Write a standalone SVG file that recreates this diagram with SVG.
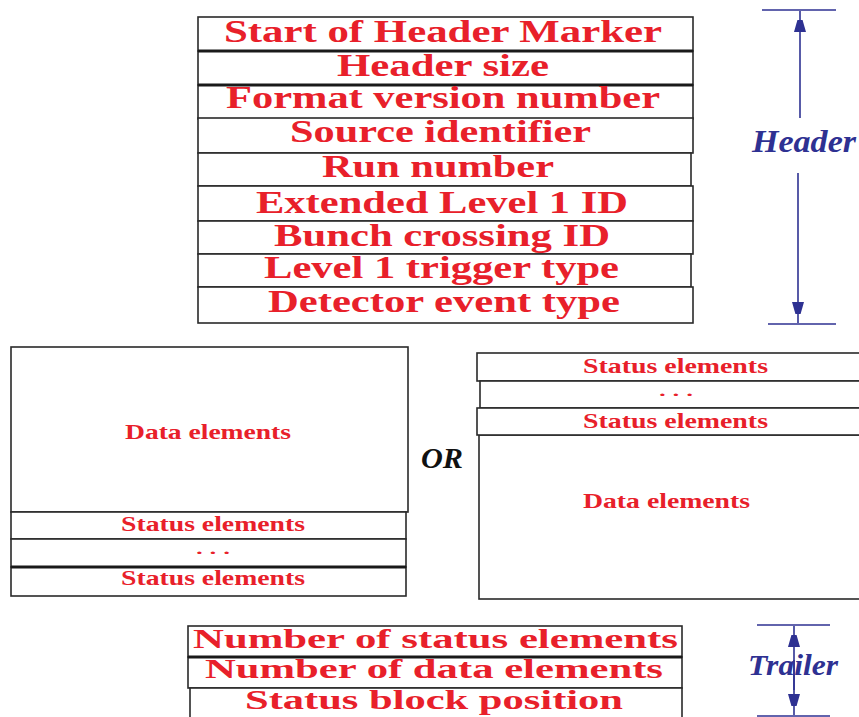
<svg xmlns="http://www.w3.org/2000/svg" width="859" height="717" viewBox="0 0 859 717">
<style>
.box{fill:#fff;stroke:#2a2a2a;stroke-width:1.6}
.thick{fill:none;stroke:#1a1a1a;stroke-width:3}
.big{font-family:'Liberation Serif','Times New Roman',Times,serif;font-weight:700;font-size:31px;fill:#e8202a}
.tr{font-size:28px}
.sm{font-family:'Liberation Serif','Times New Roman',Times,serif;font-weight:700;font-size:22px;fill:#e8202a}
.dots{font-size:15px}
.lbl{font-family:'Liberation Serif','Times New Roman',Times,serif;font-weight:700;font-style:italic;font-size:31px;fill:#2e3192}
.or{font-family:'Liberation Serif','Times New Roman',Times,serif;font-weight:700;font-style:italic;font-size:30px;fill:#111}
.ln{stroke:#2e3192;stroke-width:1.6;fill:none}
</style>
<defs>
<marker id="ah" markerUnits="userSpaceOnUse" markerWidth="12" markerHeight="22" refX="21" refY="6" orient="auto">
<path d="M0,0 L21,6 L0,12 z" fill="#2e3192"/>
</marker>
</defs>
<rect width="859" height="717" fill="#fff"/>

<g id="header">
<rect class="box" x="198" y="17" width="495" height="34"/>
<rect class="box" x="198" y="51" width="495" height="34"/>
<rect class="box" x="198" y="85" width="495" height="34"/>
<rect class="box" x="198" y="118" width="495" height="35"/>
<rect class="box" x="198" y="153" width="493" height="33"/>
<rect class="box" x="198" y="186" width="495" height="35"/>
<rect class="box" x="198" y="221" width="495" height="33"/>
<rect class="box" x="198" y="254" width="493" height="33"/>
<rect class="box" x="198" y="287" width="495" height="36"/>
<line class="thick" x1="198" y1="51" x2="693" y2="51"/>
<line class="thick" x1="198" y1="85" x2="693" y2="85"/>
<text class="big" x="224" y="42" textLength="438" lengthAdjust="spacingAndGlyphs">Start of Header Marker</text>
<text class="big" x="337" y="76" textLength="212" lengthAdjust="spacingAndGlyphs">Header size</text>
<text class="big" x="226" y="108" textLength="434" lengthAdjust="spacingAndGlyphs">Format version number</text>
<text class="big" x="290" y="142" textLength="301" lengthAdjust="spacingAndGlyphs">Source identifier</text>
<text class="big" x="322" y="177" textLength="232" lengthAdjust="spacingAndGlyphs">Run number</text>
<text class="big" x="256" y="213" textLength="372" lengthAdjust="spacingAndGlyphs">Extended Level 1 ID</text>
<text class="big" x="274" y="246" textLength="336" lengthAdjust="spacingAndGlyphs">Bunch crossing ID</text>
<text class="big" x="264" y="278" textLength="355" lengthAdjust="spacingAndGlyphs">Level 1 trigger type</text>
<text class="big" x="268" y="312" textLength="352" lengthAdjust="spacingAndGlyphs">Detector event type</text>
</g>

<g id="left-block">
<rect class="box" x="11" y="347" width="397" height="165"/>
<rect class="box" x="11" y="512" width="395" height="27"/>
<rect class="box" x="11" y="539" width="395" height="28"/>
<rect class="box" x="11" y="567" width="395" height="29"/>
<line class="thick" x1="11" y1="567" x2="406" y2="567"/>
<text class="sm" x="125" y="439" textLength="166" lengthAdjust="spacingAndGlyphs">Data elements</text>
<text class="sm" x="121" y="531" textLength="184" lengthAdjust="spacingAndGlyphs">Status elements</text>
<text class="sm dots" x="196" y="554" textLength="34" lengthAdjust="spacingAndGlyphs">. . .</text>
<text class="sm" x="121" y="585" textLength="184" lengthAdjust="spacingAndGlyphs">Status elements</text>
</g>

<g id="or">
<text class="or" x="421" y="468" textLength="42" lengthAdjust="spacingAndGlyphs">OR</text>
</g>

<g id="right-block">
<rect class="box" x="479" y="435" width="385" height="164"/>
<rect class="box" x="477" y="353" width="387" height="28"/>
<rect class="box" x="480" y="381" width="384" height="27"/>
<rect class="box" x="477" y="408" width="387" height="27"/>
<text class="sm" x="583" y="373" textLength="185" lengthAdjust="spacingAndGlyphs">Status elements</text>
<text class="sm dots" x="659" y="396" textLength="34" lengthAdjust="spacingAndGlyphs">. . .</text>
<text class="sm" x="583" y="428" textLength="185" lengthAdjust="spacingAndGlyphs">Status elements</text>
<text class="sm" x="583" y="508" textLength="167" lengthAdjust="spacingAndGlyphs">Data elements</text>
</g>

<g id="trailer">
<rect class="box" x="188" y="626" width="494" height="31"/>
<rect class="box" x="188" y="657" width="494" height="31"/>
<rect class="box" x="190" y="688" width="492" height="40"/>
<line class="thick" x1="188" y1="657" x2="682" y2="657"/>
<text class="big tr" x="193" y="648" textLength="485" lengthAdjust="spacingAndGlyphs">Number of status elements</text>
<text class="big tr" x="205" y="678" textLength="458" lengthAdjust="spacingAndGlyphs">Number of data elements</text>
<text class="big tr" x="245" y="709" textLength="378" lengthAdjust="spacingAndGlyphs">Status block position</text>
</g>

<g id="connectors">
<line class="ln" x1="762" y1="10" x2="836" y2="10"/>
<line class="ln" x1="800" y1="118" x2="800" y2="11" marker-end="url(#ah)"/>
<line class="ln" x1="798" y1="173" x2="798" y2="323" marker-end="url(#ah)"/>
<line class="ln" x1="768" y1="324" x2="836" y2="324"/>
<line class="ln" x1="757" y1="625" x2="830" y2="625"/>
<line class="ln" x1="794" y1="690" x2="794" y2="626" marker-end="url(#ah)"/>
<line class="ln" x1="794" y1="660" x2="794" y2="715" marker-end="url(#ah)"/>
<line class="ln" x1="757" y1="716" x2="830" y2="716"/>
</g>

<g id="header-label">
<text class="lbl" x="752" y="152" textLength="104" lengthAdjust="spacingAndGlyphs">Header</text>
</g>
<g id="trailer-label">
<text class="lbl" x="748" y="675" textLength="90" lengthAdjust="spacingAndGlyphs" style="font-size:29px">Trailer</text>
</g>
</svg>
